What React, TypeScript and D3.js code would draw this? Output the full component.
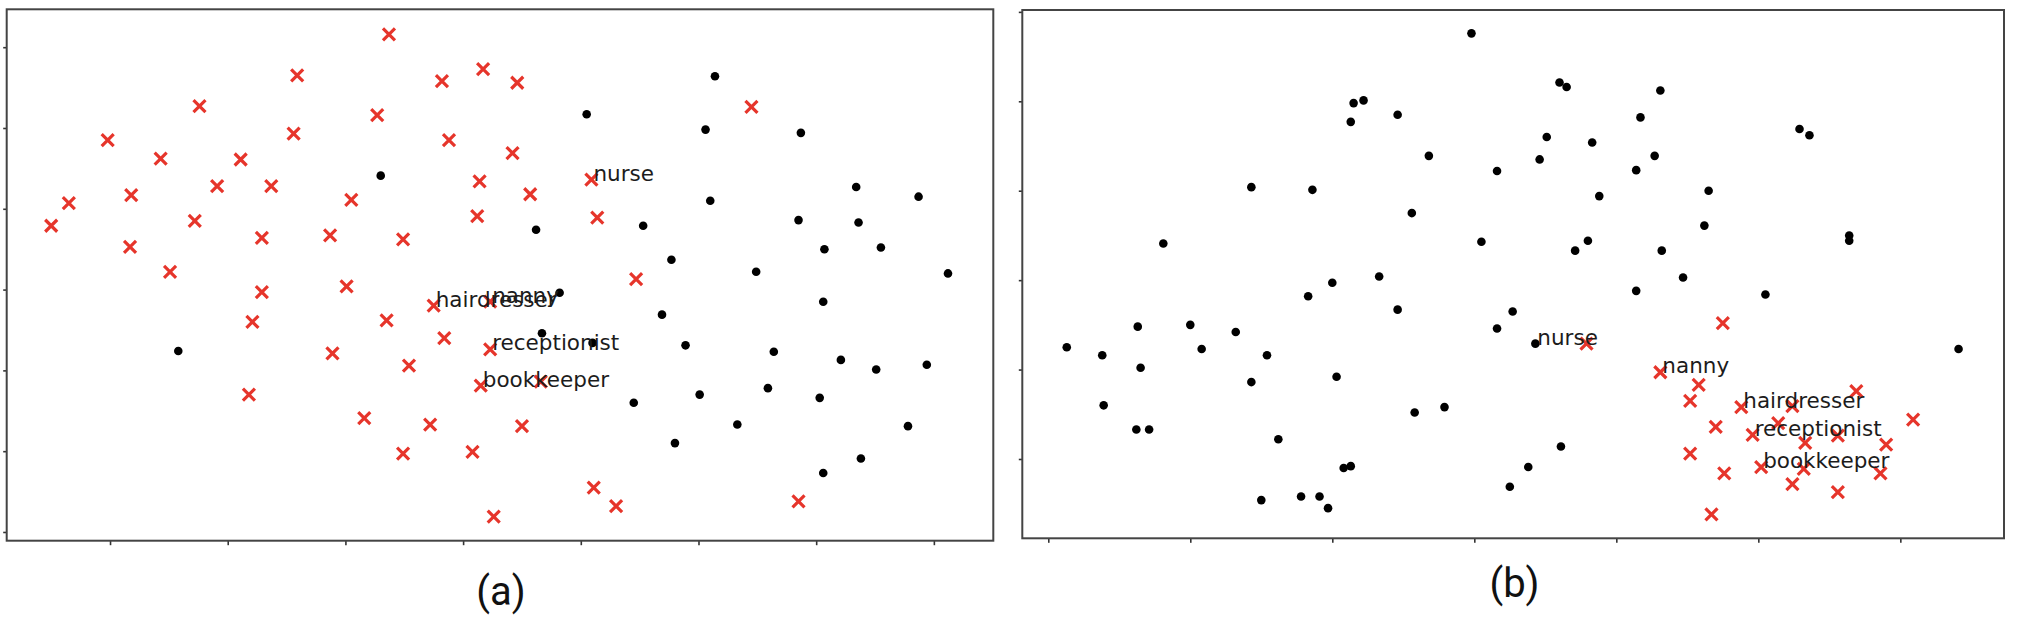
import React, { useEffect, useRef } from 'react';
import * as d3 from 'd3';

// panel (a) - red crosses (female-associated words)
const redA: [number, number][] = [
  [2.37, 6.16], [1.59, 5.65], [2.82, 5.58], [3.17, 5.73], [3.46, 5.56], [0.76, 5.27],
  [2.27, 5.16], [5.45, 5.26], [-0.02, 4.85], [1.56, 4.93], [2.88, 4.85], [0.43, 4.62],
  [1.11, 4.61], [3.42, 4.69], [0.91, 4.28], [1.37, 4.28], [0.18, 4.17], [3.14, 4.34],
  [4.09, 4.36], [3.57, 4.18], [-0.35, 4.07], [2.05, 4.11], [-0.5, 3.79], [0.72, 3.85],
  [3.12, 3.91], [4.14, 3.89], [1.29, 3.64], [1.87, 3.67], [2.49, 3.62], [0.17, 3.53],
  [0.51, 3.22], [4.47, 3.13], [1.29, 2.97], [2.01, 3.04], [2.75, 2.8], [3.23, 2.85],
  [1.21, 2.6], [2.35, 2.62], [2.84, 2.4], [3.23, 2.26], [1.89, 2.21], [2.54, 2.06],
  [3.15, 1.81], [3.66, 1.86], [1.18, 1.7], [2.16, 1.41], [2.72, 1.33], [3.5, 1.31],
  [2.49, 0.97], [3.08, 0.99], [4.11, 0.55], [4.3, 0.32], [3.26, 0.19], [5.85, 0.38],
];

// panel (a) - black dots
const blackA: [number, number][] = [
  [5.14, 5.64], [4.05, 5.17], [5.06, 4.98], [5.87, 4.94], [2.3, 4.41], [6.34, 4.27],
  [6.87, 4.15], [5.1, 4.1], [3.62, 3.74], [4.53, 3.79], [5.85, 3.86], [6.36, 3.83],
  [6.07, 3.5], [6.55, 3.52], [4.77, 3.37], [5.49, 3.22], [7.12, 3.2], [3.82, 2.96],
  [6.06, 2.85], [4.69, 2.69], [3.67, 2.46], [4.1, 2.34], [4.89, 2.31], [5.64, 2.23],
  [6.21, 2.13], [6.51, 2.01], [6.94, 2.07], [0.58, 2.24], [5.01, 1.7], [5.59, 1.78],
  [6.03, 1.66], [4.45, 1.6], [5.33, 1.33], [6.78, 1.31], [4.8, 1.1], [6.38, 0.91],
  [6.06, 0.73],
];

const wordsA: [string, number, number][] = [
  ['nurse', 4.09, 4.36],
  ['nanny', 3.23, 2.85],
  ['hairdresser', 2.75, 2.8],
  ['receptionist', 3.23, 2.26],
  ['bookkeeper', 3.15, 1.81],
];

// panel (b) - red crosses
const redB: [number, number][] = [
  [4.75, 1.52], [3.79, 1.29], [4.31, 0.97], [4.58, 0.83], [4.52, 0.65], [5.69, 0.76],
  [4.88, 0.58], [5.24, 0.59], [6.09, 0.44], [4.7, 0.36], [5.14, 0.4], [4.96, 0.27],
  [5.33, 0.18], [5.56, 0.26], [5.9, 0.16], [4.52, 0.06], [4.76, -0.16], [5.02, -0.09],
  [5.32, -0.11], [5.86, -0.16], [5.24, -0.28], [5.56, -0.37], [4.67, -0.62],
];

// panel (b) - black dots
const blackB: [number, number][] = [
  [2.98, 4.76], [3.6, 4.21], [3.65, 4.16], [4.31, 4.12], [2.15, 3.98], [2.22, 4.01],
  [2.13, 3.77], [2.46, 3.85], [4.17, 3.82], [5.29, 3.69], [5.36, 3.62], [3.51, 3.6],
  [3.83, 3.54], [2.68, 3.39], [3.46, 3.35], [4.27, 3.39], [3.16, 3.22], [4.14, 3.23],
  [1.43, 3.04], [1.86, 3.01], [4.65, 3.0], [3.88, 2.94], [2.56, 2.75], [4.62, 2.61],
  [5.64, 2.5], [5.64, 2.44], [0.81, 2.41], [3.05, 2.43], [3.8, 2.44], [3.71, 2.33],
  [4.32, 2.33], [2.33, 2.04], [4.47, 2.03], [2.0, 1.97], [4.14, 1.88], [1.83, 1.82],
  [5.05, 1.84], [2.46, 1.67], [3.27, 1.65], [0.63, 1.48], [1.0, 1.5], [1.32, 1.42],
  [3.16, 1.46], [0.13, 1.25], [0.38, 1.16], [1.08, 1.23], [1.54, 1.16], [3.43, 1.29],
  [6.41, 1.23], [0.65, 1.02], [1.43, 0.86], [2.03, 0.92], [0.39, 0.6], [0.62, 0.33],
  [0.71, 0.33], [2.58, 0.52], [2.79, 0.58], [1.62, 0.22], [3.61, 0.14], [2.08, -0.1],
  [2.13, -0.08], [3.38, -0.09], [3.25, -0.31], [1.5, -0.46], [1.78, -0.42], [1.91, -0.42],
  [1.97, -0.55],
];

const wordsB: [string, number, number][] = [
  ['nurse', 3.43, 1.29],
  ['nanny', 4.31, 0.97],
  ['hairdresser', 4.88, 0.58],
  ['receptionist', 4.96, 0.27],
  ['bookkeeper', 5.02, -0.09],
];

const xTicksA = [0, 1, 2, 3, 4, 5, 6, 7];
const yTicksA = [0, 1, 2, 3, 4, 5, 6];
const xTicksB = [0, 1, 2, 3, 4, 5, 6];
const yTicksB = [0, 1, 2, 3, 4, 5];

const captions = ['(a)', '(b)'];

const RED = '#e6352b';

const App = () => {
  const ref = useRef<SVGSVGElement>(null);

  useEffect(() => {
    document.body.style.margin = '0';
    document.body.style.overflow = 'hidden';

    const svg = d3.select(ref.current);
    svg.selectAll('*').remove();

    const panels = [
      {
        red: redA, black: blackA, words: wordsA, xTicks: xTicksA, yTicks: yTicksA,
        xDomain: [-0.878, 7.505], yDomain: [-0.108, 6.469],
        box: { left: 6.7, right: 993.3, top: 9.3, bottom: 540.7 },
        caption: captions[0], capX: 501, capY: 605,
      },
      {
        red: redB, black: blackB, words: wordsB, xTicks: xTicksB, yTicks: yTicksB,
        xDomain: [-0.183, 6.73], yDomain: [-0.887, 5.021],
        box: { left: 1022.3, right: 2004, top: 10, bottom: 538.3 },
        caption: captions[1], capX: 1514.5, capY: 597,
      },
    ];

    panels.forEach((p) => {
      const x = d3.scaleLinear().domain(p.xDomain).range([p.box.left, p.box.right]);
      const y = d3.scaleLinear().domain(p.yDomain).range([p.box.bottom, p.box.top]);
      const g = svg.append('g');

      // axes: ticks only, no labels
      const xAxis = g.append('g')
        .attr('transform', `translate(0,${p.box.bottom})`)
        .call(d3.axisBottom(x).tickValues(p.xTicks).tickSize(4.5).tickFormat(() => ''));
      const yAxis = g.append('g')
        .attr('transform', `translate(${p.box.left},0)`)
        .call(d3.axisLeft(y).tickValues(p.yTicks).tickSize(3.5).tickFormat(() => ''));
      [xAxis, yAxis].forEach((a) => {
        a.select('.domain').remove();
        a.selectAll('line').attr('stroke', '#333').attr('stroke-width', 1.6);
      });

      // frame
      g.append('rect')
        .attr('x', p.box.left)
        .attr('y', p.box.top)
        .attr('width', p.box.right - p.box.left)
        .attr('height', p.box.bottom - p.box.top)
        .attr('fill', 'none')
        .attr('stroke', '#444')
        .attr('stroke-width', 2);

      const s = 6;
      g.selectAll('path.cross')
        .data(p.red)
        .enter()
        .append('path')
        .attr('class', 'cross')
        .attr('d', (d) => {
          const cx = x(d[0]);
          const cy = y(d[1]);
          return `M${cx - s},${cy - s}L${cx + s},${cy + s}M${cx - s},${cy + s}L${cx + s},${cy - s}`;
        })
        .attr('stroke', RED)
        .attr('stroke-width', 3.2)
        .attr('fill', 'none');

      g.selectAll('circle.dot')
        .data(p.black)
        .enter()
        .append('circle')
        .attr('class', 'dot')
        .attr('cx', (d) => x(d[0]))
        .attr('cy', (d) => y(d[1]))
        .attr('r', 4.3)
        .attr('fill', '#000');

      g.selectAll('text.word')
        .data(p.words)
        .enter()
        .append('text')
        .attr('class', 'word')
        .attr('x', (d) => x(d[1]) + 2)
        .attr('y', (d) => y(d[2]) + 1)
        .attr('font-family', 'DejaVu Sans')
        .attr('font-size', 21.5)
        .attr('fill', '#1c1c1c')
        .text((d) => d[0]);

      g.append('text')
        .attr('x', p.capX)
        .attr('y', p.capY)
        .attr('text-anchor', 'middle')
        .attr('font-family', 'Roboto')
        .attr('font-size', 40)
        .attr('fill', '#111')
        .text(p.caption);
    });
  }, []);

  return (
    <>
      <svg ref={ref} width={2018} height={622} style={{ display: 'block', background: '#fff' }}></svg>
    </>
  );
};

export default App;
